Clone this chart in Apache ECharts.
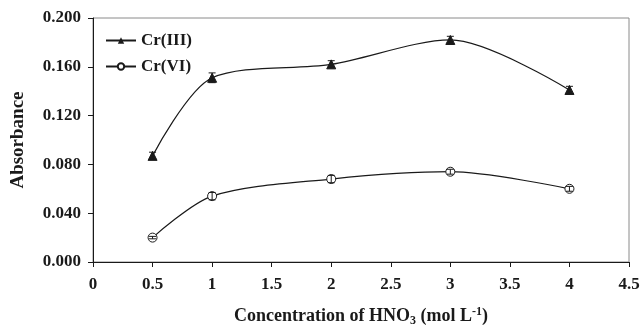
<!DOCTYPE html>
<html>
<head>
<meta charset="utf-8">
<script src="https://cdn.jsdelivr.net/npm/echarts@6/dist/echarts.min.js"></script>
<style>
  html, body { margin: 0; padding: 0; background: #fff; }
  #chart { width: 641px; height: 328px; }
</style>
</head>
<body>
<div id="chart"></div>
<script>
// values
const concentration = [0.5, 1, 2, 3, 4]
const cr3 = [0.087, 0.151, 0.162, 0.182, 0.141]
const cr3Err = [0.003, 0.004, 0.003, 0.003, 0.003]
const cr6 = [0.020, 0.054, 0.068, 0.074, 0.060]
const cr6Err = [0.001, 0.003, 0.003, 0.002, 0.002]

const font = 'Liberation Serif, Times New Roman, serif'
const ink = '#1a1a1a'

const pairs = (ys) => concentration.map((x, i) => [x, ys[i]])
const errPairs = (ys, es) => concentration.map((x, i) => [x, ys[i], es[i]])

const errorBars = (params, api) => {
  const x = api.value(0)
  const y = api.value(1)
  const e = api.value(2)
  const hi = api.coord([x, y + e])
  const lo = api.coord([x, y - e])
  const w = 3.5
  const style = { stroke: ink, lineWidth: 1 }
  return {
    type: 'group',
    children: [
      { type: 'line', shape: { x1: hi[0], y1: hi[1], x2: lo[0], y2: lo[1] }, style },
      { type: 'line', shape: { x1: hi[0] - w, y1: hi[1], x2: hi[0] + w, y2: hi[1] }, style },
      { type: 'line', shape: { x1: lo[0] - w, y1: lo[1], x2: lo[0] + w, y2: lo[1] }, style }
    ]
  }
}

const chart = echarts.init(document.getElementById('chart'))

chart.setOption({
  animation: false,
  textStyle: { fontFamily: font },
  grid: {
    left: 93,
    right: 12,
    top: 18,
    bottom: 66,
    outerBoundsMode: 'none',
    show: true,
    borderColor: '#8a8a8a',
    borderWidth: 1
  },
  legend: {
    data: ['Cr(III)', 'Cr(VI)'],
    orient: 'vertical',
    left: 100,
    top: 27,
    itemWidth: 30,
    itemHeight: 8,
    itemGap: 9,
    textStyle: { fontFamily: font, fontWeight: 'bold', fontSize: 17, color: ink }
  },
  xAxis: {
    type: 'value',
    min: 0,
    max: 4.5,
    interval: 0.5,
    splitLine: { show: false },
    axisLine: { lineStyle: { color: ink, width: 1 } },
    axisTick: { length: 5, lineStyle: { color: ink } },
    axisLabel: { margin: 14, fontFamily: font, fontWeight: 'bold', fontSize: 17, color: ink },
    name: 'Concentration of HNO{sub|3} (mol L{sup|-1})',
    nameLocation: 'middle',
    nameGap: 44,
    nameTextStyle: {
      fontFamily: font, fontWeight: 'bold', fontSize: 18, color: ink,
      rich: {
        sub: { fontFamily: font, fontWeight: 'bold', fontSize: 12, color: ink, verticalAlign: 'bottom', padding: [9, 0, 0, 0] },
        sup: { fontFamily: font, fontWeight: 'bold', fontSize: 12, color: ink, verticalAlign: 'top', padding: [0, 0, 9, 0] }
      }
    }
  },
  yAxis: {
    type: 'value',
    min: 0,
    max: 0.2,
    interval: 0.04,
    splitLine: { show: false },
    axisLine: { show: true, lineStyle: { color: ink, width: 1 } },
    axisTick: { show: true, length: 5, lineStyle: { color: ink } },
    axisLabel: {
      margin: 12, fontFamily: font, fontWeight: 'bold', fontSize: 17, color: ink,
      formatter: (v) => v.toFixed(3)
    },
    name: 'Absorbance',
    nameLocation: 'middle',
    nameGap: 65,
    nameTextStyle: { fontFamily: font, fontWeight: 'bold', fontSize: 19, color: ink }
  },
  series: [
    {
      name: 'Cr(III)',
      type: 'line',
      data: pairs(cr3),
      smooth: 0.3,
      symbol: 'triangle',
      symbolSize: 9,
      lineStyle: { color: ink, width: 1.2 },
      itemStyle: { color: ink, borderColor: ink },
      z: 3
    },
    {
      name: 'Cr(VI)',
      type: 'line',
      data: pairs(cr6),
      smooth: 0.3,
      symbol: 'circle',
      symbolSize: 9,
      lineStyle: { color: ink, width: 1.2 },
      itemStyle: { color: '#fff', borderColor: ink, borderWidth: 1 },
      z: 3
    },
    {
      type: 'custom',
      renderItem: errorBars,
      data: errPairs(cr3, cr3Err),
      encode: { x: 0, y: 1 },
      z: 4,
      silent: true
    },
    {
      type: 'custom',
      renderItem: errorBars,
      data: errPairs(cr6, cr6Err),
      encode: { x: 0, y: 1 },
      z: 4,
      silent: true
    }
  ]
})
</script>
</body>
</html>
